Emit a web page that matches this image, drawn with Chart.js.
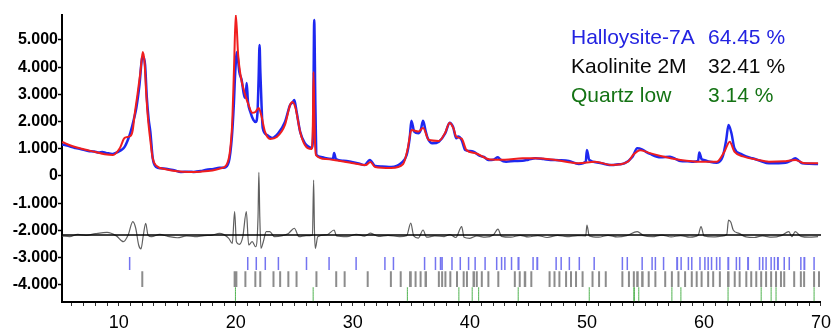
<!DOCTYPE html>
<html>
<head>
<meta charset="utf-8">
<script src="https://cdn.jsdelivr.net/npm/chart.js@4.4.1/dist/chart.umd.min.js"></script>
<style>
  html, body { margin: 0; padding: 0; background: #fff; }
  #wrap { width: 837px; height: 331px; }
</style>
</head>
<body>
<div id="wrap"><canvas id="xrd"></canvas></div>
<script>
'use strict';

// DATA (2theta, counts)
// ===========================================
var observed = [
  [5.17,1160],[5.6,1120],[6.0,1060],[6.3,1030],[6.8,980],[7.4,920],[7.9,900],[8.3,860],[8.6,880],[8.9,850],
  [9.2,830],[9.5,810],[9.9,880],[10.2,950],[10.5,1070],[10.8,1350],[11.0,1600],[11.3,2100],[11.5,2500],[11.77,3350],
  [12.0,4340],[12.1,4370],[12.25,4080],[12.4,2870],[12.55,2100],[12.7,1620],[12.9,660],[13.2,330],[13.6,280],[14.15,260],
  [14.8,200],[15.3,150],[16.0,160],[16.4,150],[17.0,180],[17.5,230],[18.1,260],[18.6,300],[19.0,300],[19.4,515],
  [19.66,1400],[19.83,2610],[19.95,3800],[20.1,4560],[20.3,3820],[20.5,3530],[20.76,2870],[20.86,3000],[20.93,3420],[21.04,2720],
  [21.25,2350],[21.5,2060],[21.7,1985],[21.85,2300],[21.95,3600],[22.03,4815],[22.1,3800],[22.2,2600],[22.3,1760],[22.65,1510],
  [23.1,1400],[23.64,1580],[24.2,1985],[24.64,2610],[24.85,2700],[25.0,2790],[25.2,2350],[25.5,1620],[25.9,1210],[26.2,1080],
  [26.47,1030],[26.6,1400],[26.7,5730],[26.8,2610],[26.9,770],[27.3,700],[27.6,660],[28.3,625],[28.4,845],[28.55,625],
  [29.2,560],[29.9,515],[30.5,460],[31.0,400],[31.45,590],[31.9,370],[32.5,350],[33.27,330],[33.8,380],[34.15,480],
  [34.6,770],[34.86,1400],[35.0,2030],[35.25,1630],[35.6,1570],[35.8,1690],[36.0,2030],[36.2,1690],[36.4,1385],[36.8,1200],
  [37.35,1260],[37.9,1570],[38.27,1960],[38.56,1810],[38.84,1385],[39.0,1450],[39.3,1320],[39.6,955],[40.0,920],[40.3,895],
  [40.86,735],[41.2,700],[41.57,590],[42.0,600],[42.4,685],[42.6,600],[43.1,525],[43.8,550],[44.5,560],[45.0,600],
  [45.6,650],[46.3,620],[46.9,590],[47.6,580],[48.45,550],[49.3,440],[49.9,525],[50.0,955],[50.2,590],[51.0,490],
  [51.6,430],[52.1,400],[52.7,430],[53.2,465],[53.9,710],[54.3,1020],[54.7,980],[55.0,900],[55.4,810],[56.3,685],
  [57.1,710],[57.6,620],[58.0,550],[58.6,540],[59.1,525],[59.5,560],[59.6,860],[59.8,620],[59.97,590],[60.5,520],
  [61.1,490],[61.6,710],[61.9,1320],[62.1,1875],[62.35,1570],[62.6,1020],[63.15,810],[63.6,720],[64.15,650],[64.8,560],
  [65.55,465],[66.2,470],[66.96,490],[67.4,560],[67.8,650],[68.1,560],[68.4,465],[69.0,450],[69.75,440]
];

var calculated = [
  [5.17,1250],[6.0,1100],[7.0,980],[8.0,880],[8.8,800],[9.5,770],[10.1,1030],[10.5,1400],[11.0,1470],[11.2,1700],
  [11.35,2240],[11.6,3000],[11.85,3820],[12.05,4560],[12.2,4190],[12.35,3000],[12.5,2100],[12.7,1300],[12.9,650],[13.2,380],
  [14.0,250],[15.0,170],[16.0,150],[17.0,160],[18.0,200],[18.7,280],[19.2,400],[19.5,900],[19.7,2000],[19.85,4000],
  [20.0,5920],[20.2,4450],[20.4,3710],[20.8,2980],[21.1,2600],[21.4,2320],[21.67,2350],[21.95,2500],[22.17,2240],[22.5,1620],
  [22.94,1360],[23.5,1430],[24.2,1875],[24.64,2610],[24.83,2720],[25.1,2500],[25.5,1620],[25.9,1140],[26.47,990],[26.58,1800],
  [26.64,3820],[26.7,2500],[26.76,1300],[26.85,770],[27.7,625],[28.8,560],[29.9,480],[31.1,400],[31.5,515],[31.9,330],
  [33.27,290],[34.3,440],[34.7,1030],[35.0,1690],[35.6,1630],[36.0,1760],[36.5,1320],[37.35,1290],[37.9,1600],[38.27,1960],
  [38.6,1750],[38.84,1440],[39.3,1370],[39.7,955],[40.5,835],[41.7,610],[43.0,600],[44.5,650],[45.6,650],[47.3,590],
  [49.3,470],[50.7,525],[52.1,400],[53.5,525],[54.0,800],[54.55,950],[55.3,850],[56.3,735],[58.0,590],[59.7,525],
  [61.1,525],[61.75,895],[62.2,1260],[62.6,895],[63.4,710],[64.5,600],[65.55,525],[66.8,540],[67.8,590],[68.5,480],
  [69.75,465]
];

var difference = [
  [5.17,-2200],[5.8,-2230],[6.5,-2145],[7.2,-2180],[8.0,-2120],[9.0,-2070],[9.8,-2200],[10.4,-2415],[10.8,-2170],[11.2,-1680],
  [11.45,-1920],[11.7,-2535],[11.9,-2680],[12.1,-2170],[12.3,-1740],[12.5,-2170],[12.8,-2230],[13.5,-2145],[14.2,-2220],[15,-2270],
  [15.8,-2200],[16.5,-2230],[17.3,-2190],[18,-2170],[18.6,-2110],[19.4,-2290],[19.7,-2475],[19.9,-1310],[20.05,-2415],[20.3,-2515],
  [20.6,-2230],[20.9,-1310],[21.1,-2535],[21.4,-2415],[21.7,-2600],[21.9,-1500],[21.97,130],[22.05,-1500],[22.15,-2660],[22.35,-2415],
  [22.6,-2045],[22.9,-2045],[23.3,-2230],[24,-2190],[24.5,-2110],[25.0,-1920],[25.4,-2230],[26.0,-2190],[26.55,-2170],[26.65,-150],
  [26.72,-2000],[26.8,-2660],[27.0,-2230],[27.8,-2160],[28.4,-1985],[28.6,-2200],[29.5,-2230],[30.3,-2140],[31.0,-2210],[31.5,-2100],
  [32.2,-2220],[33,-2180],[34.0,-2230],[34.6,-2190],[34.95,-1730],[35.2,-2200],[35.6,-2280],[36.0,-1985],[36.3,-2250],[37.0,-2200],
  [37.8,-2230],[38.3,-2150],[38.8,-2260],[39.3,-1860],[39.5,-2250],[40,-2290],[40.6,-2200],[41.3,-2250],[42.0,-2170],[42.4,-1950],
  [42.7,-2220],[43.5,-2250],[44.3,-2180],[45.0,-2240],[45.8,-2190],[46.6,-2260],[47.5,-2180],[48.3,-2230],[49.2,-2190],[49.9,-2200],
  [50.0,-1800],[50.2,-2200],[51,-2250],[51.8,-2180],[52.6,-2240],[53.4,-2190],[54.3,-2045],[54.8,-2180],[55.6,-2230],[56.4,-2170],
  [57.2,-2240],[58.0,-2190],[58.8,-2250],[59.5,-2180],[59.75,-1860],[60.0,-2200],[60.8,-2240],[61.5,-2210],[61.95,-2150],[62.1,-1620],
  [62.3,-1700],[62.5,-1985],[63,-2110],[63.6,-2240],[64.3,-2260],[65,-2200],[65.8,-2250],[66.6,-2190],[67.26,-2045],[67.5,-2230],
  [67.8,-2045],[68.3,-2220],[69,-2250],[69.75,-2230]
];

var diffZero = -2170;

// reflection positions (2theta) per phase
var halloysitePeaks = [10.93,21.02,21.75,22.52,23.64,26.04,27.97,30.28,32.74,33.47,36.13,37.06,37.49,37.63,38.47,39.18,39.89,
  40.45,41.3,42.29,42.71,42.99,43.56,44.13,44.18,45.4,45.74,45.78,47.37,47.8,48.5,49.35,50.62,53.03,53.45,54.72,55.57,55.85,
  56.55,57.69,57.73,58.05,58.67,58.96,59.66,60.08,60.36,60.65,61.08,61.36,62.06,62.1,62.77,63.05,63.75,63.79,64.75,65.03,65.31,
  65.74,66.02,66.3,66.34,66.86,67.29,68.28,68.56,68.6,69.41];
var kaolinitePeaks = [12.01,19.9,19.97,20.05,20.82,21.67,22.09,23.22,23.79,24.49,25.19,26.89,28.58,29.3,31.27,33.25,34.09,34.89,
  34.95,35.36,35.79,36.21,36.25,37.35,37.63,37.91,38.33,38.9,39.47,39.75,40.31,40.35,40.59,41.02,41.58,42.43,43.84,44.26,44.69,
  44.73,45.25,46.81,47.23,47.65,48.22,48.64,49.07,49.63,50.48,51.04,51.61,53.03,53.59,54.01,54.3,54.34,54.72,54.76,55.28,55.85,
  56.69,57.26,57.82,58.39,58.96,59.38,59.8,60.36,60.79,61.36,62.06,62.1,62.63,63.05,63.62,64.04,64.47,64.89,65.31,65.74,66.16,
  66.58,66.86,67.71,68.28,68.56,69.41,69.83];
var quartzPeaks = [19.97,26.61,34.66,39.06,40.2,40.75,44.13,50.2,54.01,54.05,54.43,57.26,58.03,62.06,64.89,65.74,66.16,69.41];

var yTickLabels = [-4000,-3000,-2000,-1000,0,1000,2000,3000,4000,5000];
var xTickLabels = [10,20,30,40,50,60,70];

var phaseNames = ['Halloysite-7A','Kaolinite 2M','Quartz low'];
var phaseShares = ['64.45 %','32.41 %','3.14 %'];
var phaseColors = ['rgb(35,35,225)','rgb(10,10,10)','rgb(20,115,20)'];

// HELPERS
// =======
var toPoints = function (arr) {
  return arr.map(function (p) { return { x: p[0], y: p[1] }; });
};

var markerSegments = function (positions, top, bottom) {
  var pts = [];
  positions.forEach(function (p) {
    pts.push({ x: p, y: top }, { x: p, y: bottom }, { x: p, y: null });
  });
  return pts;
};

var fmtThousands = function (v) {
  if (v === 0) return '0';
  return (v < 0 ? '-' : '') + (Math.abs(v) / 1000) + '.000';
};

// phase legend drawn top right
var phaseLegend = {
  id: 'phaseLegend',
  afterDraw: function (chart) {
    var c = chart.ctx;
    c.save();
    c.font = '21px "Liberation Sans", Arial, sans-serif';
    c.textBaseline = 'alphabetic';
    for (var i = 0; i < phaseNames.length; i++) {
      c.fillStyle = phaseColors[i];
      c.fillText(phaseNames[i], 571, 44 + i * 29);
      c.fillText(phaseShares[i], 708, 44 + i * 29);
    }
    c.restore();
  }
};

// CHART
// =====
var ctx = document.getElementById('xrd');
var xrdChart = new Chart(ctx, {
  type: 'line',
  data: {
    datasets: [
      { data: markerSegments(halloysitePeaks, -2980, -3455), borderColor: 'rgba(70,70,235,0.75)', borderWidth: 1.5, order: 6 },
      { data: markerSegments(kaolinitePeaks, -3500, -4080), borderColor: 'rgba(0,0,0,0.45)', borderWidth: 2, order: 7 },
      { data: markerSegments(quartzPeaks, -4085, -4600), borderColor: 'rgba(60,170,60,0.9)', borderWidth: 1, order: 8 },
      { data: toPoints(difference), borderColor: 'rgb(95,95,95)', borderWidth: 1.2, order: 5 },
      { data: [{ x: 5.15, y: diffZero }, { x: 70, y: diffZero }], borderColor: '#000', borderWidth: 1.5, order: 4 },
      { data: toPoints(observed), borderColor: 'rgb(30,40,240)', borderWidth: 2.5, order: 3 },
      { data: toPoints(calculated), borderColor: 'rgb(240,30,30)', borderWidth: 2, order: 2 }
    ]
  },
  options: {
    responsive: true,
    maintainAspectRatio: false,
    animation: false,
    layout: { padding: { top: 15, right: 11, left: 0, bottom: 0 } },
    elements: {
      point: { radius: 0 },
      line: { cubicInterpolationMode: 'monotone', fill: false }
    },
    plugins: {
      legend: { display: false },
      tooltip: { enabled: false }
    },
    scales: {
      x: {
        type: 'linear',
        min: 5.15,
        max: 70,
        afterBuildTicks: function (scale) {
          var t = [];
          for (var v = 6; v <= 70; v++) t.push({ value: v });
          scale.ticks = t;
        },
        afterFit: function (scale) { scale.height = 29; },
        border: { display: true, color: '#000', width: 2 },
        grid: { drawOnChartArea: false, tickLength: 4, color: '#333', tickWidth: 1 },
        ticks: {
          autoSkip: false,
          maxRotation: 0,
          padding: 6,
          color: '#000',
          font: { family: '"Liberation Sans", Arial, sans-serif', size: 18 },
          callback: function (v) { return xTickLabels.indexOf(v) >= 0 ? String(v) : ''; }
        }
      },
      y: {
        type: 'linear',
        min: -4630,
        max: 5915,
        afterBuildTicks: function (scale) {
          scale.ticks = yTickLabels.map(function (v) { return { value: v }; });
        },
        afterFit: function (scale) { scale.width = 62; },
        border: { display: true, color: '#000', width: 2, dash: [2, 2] },
        grid: { drawOnChartArea: false, tickLength: 4, color: '#000', tickWidth: 1.5 },
        ticks: {
          padding: 0,
          color: '#000',
          font: { family: '"Liberation Sans", Arial, sans-serif', size: 16, weight: 'bold' },
          callback: function (v) { return fmtThousands(v); }
        }
      }
    }
  },
  plugins: [phaseLegend]
});
</script>
</body>
</html>
